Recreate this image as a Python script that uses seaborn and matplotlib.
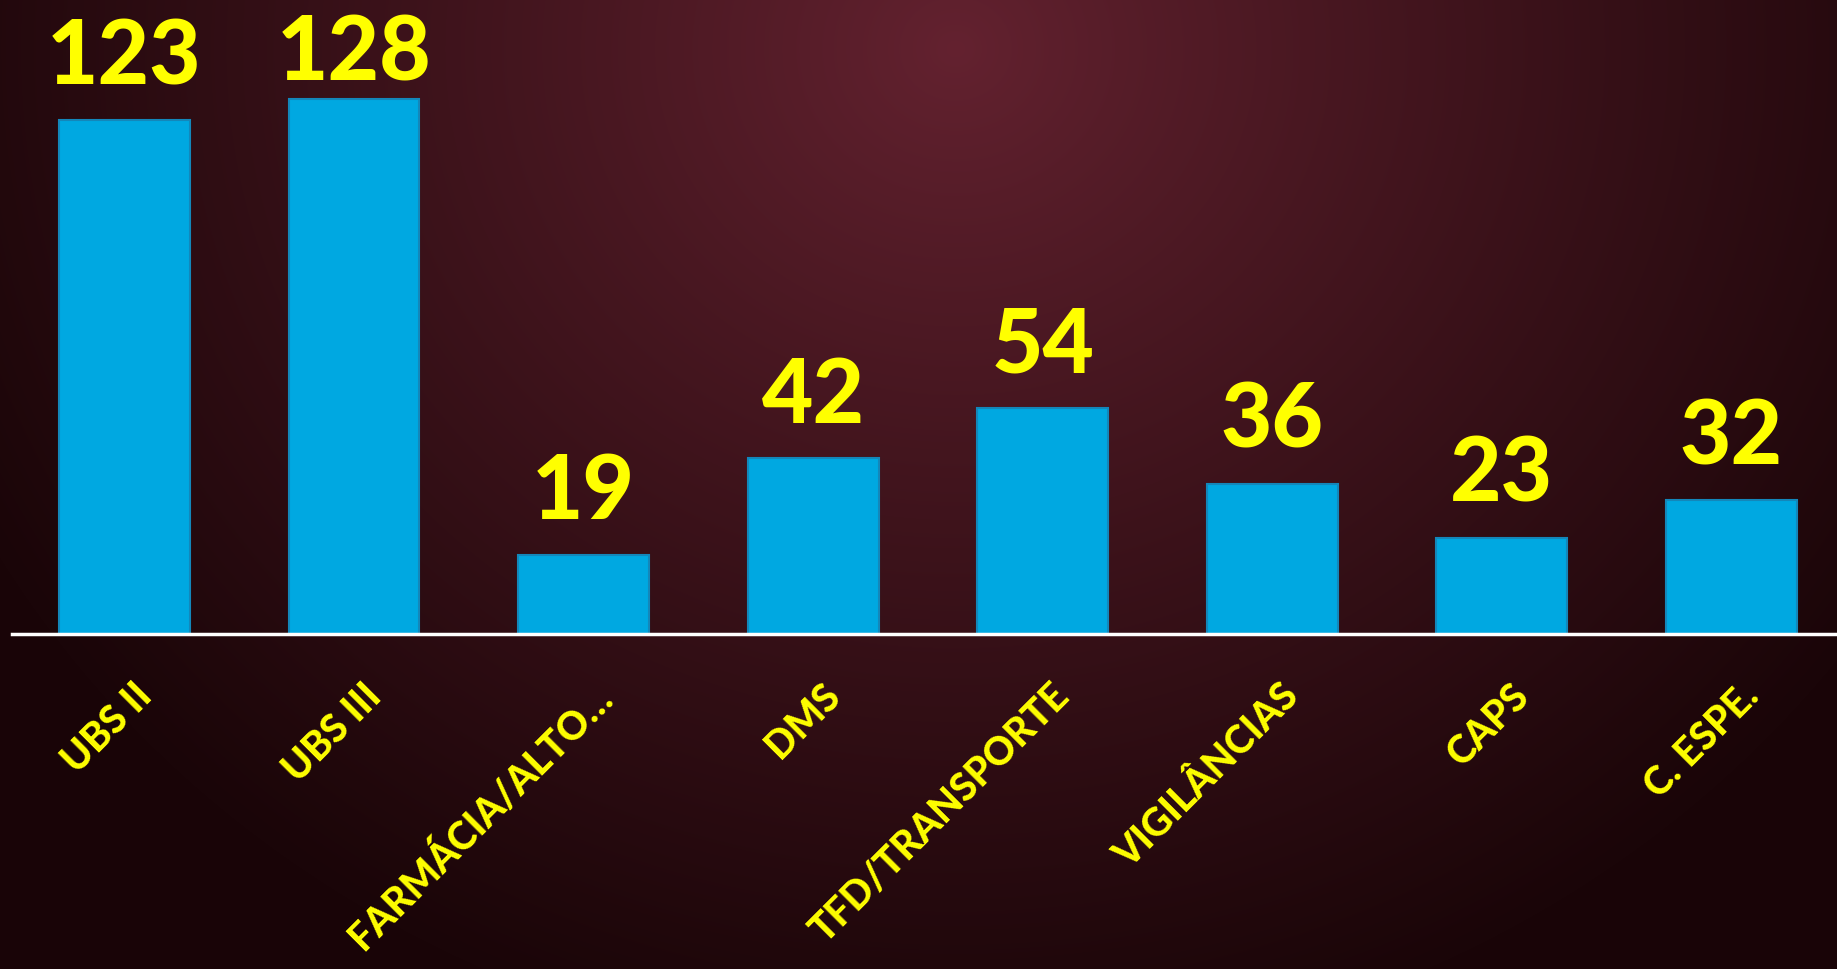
import numpy as np
import pandas as pd
import matplotlib
matplotlib.use("Agg")
import matplotlib.pyplot as plt
import matplotlib.transforms as mtransforms
import seaborn as sns

categories = ["UBS II", "UBS III", "FARMÁCIA/ALTO…", "DMS", "TFD/TRANSPORTE",
              "VIGILÂNCIAS", "CAPS", "C. ESPE."]
values = [123, 128, 19, 42, 54, 36, 23, 32]

df = pd.DataFrame({"setor": categories, "total": values})

sns.set_theme(style="white")
plt.rcParams["font.family"] = ["Lato", "DejaVu Sans"]

W, H = 1837, 969
fig = plt.figure(figsize=(W / 100, H / 100), dpi=100)

# dark wine background, lighter near the top centre
bg = fig.add_axes([0, 0, 1, 1], zorder=0)
yy, xx = np.mgrid[0:H, 0:W]
d = np.sqrt(((xx - W * 0.52) / (W * 0.6)) ** 2 + ((yy - H * 0.05) / (H * 1.05)) ** 2)
d = np.clip(d, 0, 1) ** 0.9
c_in = np.array([0x64, 0x22, 0x30]) / 255
c_out = np.array([0x1a, 0x05, 0x08]) / 255
img = c_in[None, None, :] * (1 - d[..., None]) + c_out[None, None, :] * d[..., None]
bg.imshow(img, aspect="auto", extent=[0, 1, 0, 1])
bg.axis("off")

ax = fig.add_axes([12 / W, 335 / H, (W - 12) / W, 634 / H], zorder=1)
ax.patch.set_alpha(0)
sns.barplot(data=df, x="setor", y="total", color="#00a8e1", width=0.57,
            saturation=1, edgecolor="#1387ba", linewidth=1.5, ax=ax)

ax.set_xlim(-0.49, 7.46)
ax.set_ylim(0, 151.7)

for i, v in enumerate(values):
    ax.text(i, min(v + 8.6, 132.5), str(v), ha="center", va="baseline",
            fontsize=64, fontweight=900, color="#ffff00", zorder=5)

ax.set_xticks(range(len(categories)))
ax.set_xticklabels(categories, rotation=45, ha="right", va="top",
                   rotation_mode="anchor", fontsize=28, fontweight=900,
                   color="#ffff00")
ax.tick_params(axis="x", length=0, pad=31)
shift = mtransforms.ScaledTranslation(8 / 100, 0, fig.dpi_scale_trans)
for lbl in ax.get_xticklabels():
    lbl.set_transform(lbl.get_transform() + shift)

ax.set_yticks([])
ax.set_xlabel("")
ax.set_ylabel("")
for s in ["left", "top", "right"]:
    ax.spines[s].set_visible(False)
ax.spines["bottom"].set_color("white")
ax.spines["bottom"].set_linewidth(2.5)
ax.spines["bottom"].set_zorder(6)

fig.savefig("out.png", dpi=100)
